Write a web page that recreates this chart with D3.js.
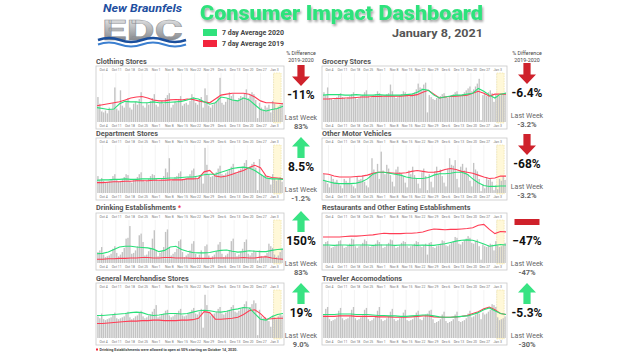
<!DOCTYPE html>
<html><head><meta charset="utf-8">
<script src="https://cdn.jsdelivr.net/npm/d3@7"></script>
<style>body{margin:0;background:#fff}svg{display:block}text{font-family:Roboto,"Noto Sans",sans-serif}</style>
</head><body>
<svg id="c" width="640" height="360"></svg>
<script>
// ---------- DATA ----------
const startDay = "Oct 1 2020";
const tickLabels = ["Oct 4","Oct 11","Oct 18","Oct 25","Nov 1","Nov 8","Nov 15","Nov 22","Nov 29","Dec 6","Dec 13","Dec 20","Dec 27","Jan 3"];
const lineStep = 3; // 7-day averages read every 3 days

const clothingBars = [52,38,22, 20,24,18,30,26,40,72, 28,24,66,34,30,44,50, 30,26,38,42,36,48,62, 34,30,40,36,44,50,58, 36,32,40,44,38,50,56, 60,30,36,42,40,48,54, 34,38,40,36,44,58,52, 40,36,46,52,30,70,56, 34,30,36,40,44,52,92, 40,36,42,48,62,54,58, 46,44,50,54,52,60,68, 50,56,62,58,46,8,40, 30,26,34,30,36,20,44, 38,28,32,36,40];
const clothing2020 = [30,28,26,27,38,43,42,42,40,40,42,40,40,41,42,43,46,50,48,42,37,40,52,50,46,44,50,46,36,26,23,26,28,33];
const clothing2019 = [34,36,38,40,42,46,50,52,53,50,46,44,44,46,47,46,48,47,44,42,40,48,56,58,60,60,60,58,52,44,40,40,39,38];

const groceryBars = [62,56,72, 50,48,46,50,52,56,60, 52,50,48,52,54,58,62, 52,48,50,54,56,62,66, 54,50,52,56,58,64,60, 56,52,54,58,60,78,64, 54,50,52,56,58,64,62, 56,52,54,60,62,68,80, 72,70,78,82,20,56,52, 48,46,50,52,54,58,60, 52,50,52,56,58,62,64, 56,54,58,62,66,70,74, 64,68,74,80,90,4,56, 58,54,62,66,60,42,58, 56,54,58,60,62];
const grocery2020 = [56,57,57,57,56,56,57,56,56,56,57,56,56,56,56,57,58,62,68,66,56,50,52,54,56,56,58,60,70,64,56,50,58,60];
const grocery2019 = [48,48,49,49,50,50,51,52,52,53,53,54,54,54,54,55,55,57,62,66,58,50,52,53,54,55,56,60,64,60,54,58,58,58];

const departmentBars = [36,28,32, 26,22,24,26,30,36,40, 28,24,26,30,34,40,38, 26,22,28,30,34,40,44, 28,24,26,30,36,40,38, 30,26,28,32,36,52,44, 74,26,30,34,36,42,46, 30,28,32,34,40,48,52, 36,32,38,40,20,96,60, 40,34,36,40,44,52,58, 40,38,42,46,50,56,62, 44,42,48,52,56,64,70, 52,56,62,66,54,6,72, 40,36,38,34,30,18,40, 30,26,30,34,24];
const department2020 = [27,28,28,29,29,30,29,29,30,30,30,31,31,32,32,33,34,34,36,39,40,40,44,48,52,54,55,53,48,40,32,30,30,29];
const department2019 = [22,22,23,24,24,25,25,26,26,26,27,27,27,28,28,28,30,30,31,45,48,36,34,36,40,44,48,54,59,54,36,33,32,30];

const motorBars = [40,26,20, 12,36,30,24,28,20,16, 10,30,26,22,32,18,14, 10,34,28,30,36,24,16, 12,40,74,50,44,62,30, 88,48,40,60,52,38,24, 14,50,56,44,42,36,22, 12,48,40,56,38,30,20, 10,44,52,36,6,40,24, 12,46,56,40,50,36,22, 14,52,74,60,58,70,30, 12,56,62,48,54,40,26, 14,64,50,46,30,4,18, 10,34,28,30,24,6,16, 8,30,26,36,28];
const motor2020 = [27,24,21,20,20,20,21,24,30,40,44,44,42,40,38,34,32,31,31,33,38,41,41,42,44,44,40,30,22,16,14,14,15,15];
const motor2019 = [41,40,36,34,34,34,35,36,38,42,44,44,43,42,42,43,46,48,46,44,44,46,50,52,50,46,44,42,38,34,31,32,36,36];

const drinkingBars = [26,30,38, 20,14,16,18,22,34,40, 24,16,20,26,36,58,60, 88,22,24,30,40,66,70, 50,18,20,28,36,58,78, 30,16,24,28,38,74,80, 36,18,22,26,34,52,56, 26,14,18,22,30,46,52, 22,14,20,30,12,40,44, 18,12,16,20,28,44,50, 22,14,18,22,30,52,58, 24,16,20,26,34,50,56, 22,18,24,30,26,6,30, 16,14,18,24,46,40,36, 20,14,18,26,34];
const drinking2020 = [22,23,26,32,38,40,40,38,37,36,33,27,30,38,40,32,28,25,24,24,25,28,30,31,28,26,27,29,28,27,27,30,32,33];
const drinking2019 = [9,9,10,10,11,11,12,12,13,13,12,12,13,13,12,12,12,11,11,11,11,12,12,12,12,12,13,12,12,14,15,12,10,9];

const restaurantBars = [44,50,52, 40,36,38,40,44,52,54, 42,36,38,42,46,58,56, 40,36,40,42,48,56,52, 40,38,40,42,46,54,50, 44,36,38,44,48,56,54, 42,36,38,42,48,52,50, 40,36,40,42,46,52,50, 40,38,42,46,20,48,50, 38,36,40,42,46,54,52, 42,40,44,48,52,62,60, 46,44,50,54,58,64,60, 48,46,52,56,40,8,44, 40,38,42,46,44,30,52, 42,38,40,44,48];
const restaurant2020 = [43,43,42,43,43,42,43,43,43,42,43,43,43,42,43,43,43,42,43,42,42,44,46,49,52,54,55,54,50,45,40,42,44,43];
const restaurant2019 = [62,62,62,62,63,64,64,65,66,67,69,71,70,70,70,71,71,72,74,78,81,80,79,80,80,81,82,84,90,92,80,70,75,74];

const merchandiseBars = [46,42,52, 40,38,40,42,44,50,54, 42,40,42,44,46,52,56, 44,40,42,46,48,54,58, 46,42,44,48,50,56,62, 70,44,46,50,52,58,60, 48,44,46,50,52,58,62, 48,46,48,52,54,60,64, 52,50,56,62,22,92,70, 54,48,50,52,56,62,66, 52,50,54,58,60,66,70, 56,54,58,62,66,72,78, 62,66,72,80,74,6,60, 46,42,44,40,36,24,48, 44,40,46,50,48];
const merchandise2020 = [48,48,49,50,51,52,54,55,54,50,48,49,51,52,52,51,52,55,58,59,58,56,55,57,60,62,65,64,52,40,38,45,50,52];
const merchandise2019 = [31,31,32,33,34,35,36,36,37,37,38,38,37,37,37,38,38,39,42,56,54,40,40,41,42,44,50,58,60,52,40,41,42,42];

const travelerBars = [50,62,66, 40,36,38,40,44,58,64, 42,38,40,42,46,60,66, 42,38,40,44,48,60,64, 40,36,38,42,46,58,66, 40,36,38,42,46,56,62, 40,36,38,42,44,54,60, 38,36,38,40,44,54,58, 40,38,44,50,52,58,60, 40,32,34,36,40,50,56, 36,32,34,36,40,50,56, 36,34,36,38,42,52,58, 44,46,50,54,52,40,54, 50,52,56,60,72,70,66, 44,38,40,42,46];
const traveler2020 = [50,50,50,51,51,51,50,50,50,49,48,48,47,47,46,46,47,48,49,49,47,45,44,44,45,46,47,50,54,60,64,58,52,50];
const traveler2019 = [46,46,46,47,47,47,46,46,46,46,45,45,45,44,44,44,45,46,47,47,45,44,44,44,45,46,48,52,56,62,66,60,52,50];

const titles = ["Clothing Stores","Grocery Stores","Department Stores","Other Motor Vehicles","Drinking Establishments","Restaurants and Other Eating Establishments","General Merchandise Stores","Traveler Accomodations"];
const pctDiff = ["-11%","-6.4%","8.5%","-68%","150%","\u221247%","19%","-5.3%"];
const lastWeek = ["83%","-3.2%","-1.2%","-3.2%","83%","-47%","9.0%","-30%"];
const direction = ["down","down","up","down","up","flat","up","up"];

// ---------- DRAW ----------
const svg = d3.select("#c");
const GREEN = "#2fe27c", RED = "#f2243d", LGREEN = "#29e07a", LRED = "#ff3d55";
const defs = svg.append("defs");
const f = defs.append("filter").attr("id","sh").attr("x","-10%").attr("y","-30%").attr("width","120%").attr("height","170%");
f.append("feDropShadow").attr("dx",1.2).attr("dy",2).attr("stdDeviation",1.3).attr("flood-color","#000").attr("flood-opacity",0.35);
const g1 = defs.append("linearGradient").attr("id","edc").attr("x1",0).attr("x2",0).attr("y1",0).attr("y2",1);
g1.append("stop").attr("offset","0%").attr("stop-color","#f4f4f4");
g1.append("stop").attr("offset","55%").attr("stop-color","#a9abae");
g1.append("stop").attr("offset","100%").attr("stop-color","#6d7075");

// Logo
svg.append("text").attr("x",103).attr("y",11.8).attr("font-family","Liberation Serif, DejaVu Serif, serif")
  .attr("font-style","italic").attr("font-weight","bold").attr("font-size",10.5).attr("fill","#1f4fa0")
  .attr("textLength",79).attr("lengthAdjust","spacingAndGlyphs").text("New Braunfels");
svg.append("text").attr("x",102).attr("y",39.5).attr("font-family","DejaVu Sans, sans-serif").attr("font-weight","bold")
  .attr("font-size",27).attr("fill","url(#edc)").attr("stroke","#8c8f94").attr("stroke-width",0.4)
  .attr("textLength",81).attr("lengthAdjust","spacingAndGlyphs").text("EDC");
const wave = (y) => `M98,${y} q11,-4 22,0 t22,0 t22,0 t22,0`;
svg.append("path").attr("d",wave(40)).attr("fill","none").attr("stroke","#1b4f9c").attr("stroke-width",2.4);
svg.append("path").attr("d",wave(44.5)).attr("fill","none").attr("stroke","#3b7fd0").attr("stroke-width",2);

// Title
svg.append("text").attr("x",200).attr("y",20).attr("font-size",19.5).attr("font-weight",900)
  .attr("fill",GREEN).attr("filter","url(#sh)").attr("textLength",283).attr("lengthAdjust","spacingAndGlyphs")
  .text("Consumer Impact Dashboard");
svg.append("text").attr("x",392).attr("y",36.5).attr("font-size",11.5).attr("font-weight","bold").attr("fill","#555")
  .attr("textLength",91).attr("lengthAdjust","spacingAndGlyphs").text("January 8, 2021");
// Legend
[[GREEN,"7 day Average 2020",29],[RED,"7 day Average 2019",40]].forEach(([c,t,y])=>{
  svg.append("rect").attr("x",203).attr("y",y).attr("width",14).attr("height",7).attr("fill",c);
  svg.append("text").attr("x",222).attr("y",y+6).attr("font-size",6.3).attr("font-weight","bold").attr("fill","#444")
    .attr("textLength",62).attr("lengthAdjust","spacingAndGlyphs").text(t);
});
// Column headers
[301,527].forEach(cx=>{
  svg.append("text").attr("x",cx).attr("y",55).attr("text-anchor","middle").attr("font-size",5.3).attr("fill","#444").text("% Difference");
  svg.append("text").attr("x",cx).attr("y",61.5).attr("text-anchor","middle").attr("font-size",5.3).attr("fill","#444").text("2019-2020");
});

const parse = d3.timeParse("%b %d %Y");
const t0 = parse(startDay);
const tickDays = tickLabels.map(l => d3.timeDay.count(t0, parse(l + (l.startsWith("Jan") ? " 2021" : " 2020"))));

const cols = [{x0:96,x1:284,cx:301},{x0:322,x1:507,cx:527}];
const rows = [{y0:66,y1:129,ty:64,vy:[95,93]},{y0:138,y1:200,ty:136,vy:[167,164]},{y0:213,y1:270,ty:210,vy:[241,241]},{y0:283,y1:345,ty:281,vy:[313,313]}];
const barsets = [clothingBars,groceryBars,departmentBars,motorBars,drinkingBars,restaurantBars,merchandiseBars,travelerBars];
const s2020 = [clothing2020,grocery2020,department2020,motor2020,drinking2020,restaurant2020,merchandise2020,traveler2020];
const s2019 = [clothing2019,grocery2019,department2019,motor2019,drinking2019,restaurant2019,merchandise2019,traveler2019];

titles.forEach((title,i)=>{
  const c = cols[i%2], r = rows[Math.floor(i/2)];
  const bars = barsets[i], n = bars.length;
  const g = svg.append("g");
  const tt = g.append("text").attr("x",c.x0).attr("y",r.ty).attr("font-size",7.3).attr("font-weight","bold").attr("fill","#555").text(title);
  if (i===4) g.append("text").attr("x",c.x0+tt.node().getComputedTextLength()+2).attr("y",r.ty-0.5).attr("font-size",6.5).attr("font-weight","bold").attr("fill",RED).text("*");
  g.append("rect").attr("x",c.x0).attr("y",r.y0).attr("width",c.x1-c.x0).attr("height",r.y1-r.y0)
    .attr("fill","#fff").attr("stroke","#c9c9c9").attr("stroke-width",0.8);
  const x = d3.scaleLinear().domain([0,n]).range([c.x0+1,c.x1-1]);
  const y = d3.scaleLinear().domain([0,100]).range([r.y1-7,r.y0+8]);
  // grid
  g.selectAll(".gl").data(tickDays).enter().append("line")
    .attr("x1",d=>x(d)).attr("x2",d=>x(d)).attr("y1",r.y0+7).attr("y2",r.y1-6).attr("stroke","#e6e6e6").attr("stroke-width",0.5);
  // highlight last days
  g.append("rect").attr("x",x(94)).attr("y",r.y0+7).attr("width",x(98)-x(94)).attr("height",r.y1-r.y0-13)
    .attr("fill","#fff8d8").attr("stroke","#e9d98a").attr("stroke-width",0.5).attr("stroke-dasharray","1.5,1");
  // bars
  g.selectAll(".b").data(bars).enter().append("rect")
    .attr("x",(d,k)=>x(k)+0.25).attr("width",x(1)-x(0)-0.5)
    .attr("y",d=>y(d)).attr("height",d=>y(0)-y(d)).attr("fill","#c3c3c3");
  // lines
  const ln = d3.line().x((d,k)=>x(Math.min(k*lineStep,n))).y(d=>y(d));
  g.append("path").attr("d",ln(s2019[i])).attr("fill","none").attr("stroke",LRED).attr("stroke-width",1.1);
  g.append("path").attr("d",ln(s2020[i])).attr("fill","none").attr("stroke",LGREEN).attr("stroke-width",1.1);
  // axis labels top & bottom
  [r.y0+5, r.y1-2].forEach(yy=>{
    g.selectAll(null).data(tickLabels).enter().append("text").attr("x",(d,k)=>x(tickDays[k]+0.5)).attr("y",yy)
      .attr("text-anchor","middle").attr("font-size",3.4).attr("fill","#777").text(d=>d);
  });
  // indicator
  const cx = c.cx, vy = r.vy[i%2];
  const dir = direction[i];
  if (dir==="flat") {
    g.append("rect").attr("x",cx-12.5).attr("y",vy-22).attr("width",25).attr("height",6).attr("fill","#cf212b");
  } else {
    const top = vy-30, bot = vy-9, hw=9, sw=3.6, hl=9.5;
    const pts = dir==="up"
      ? [[cx,top],[cx+hw,top+hl],[cx+sw,top+hl],[cx+sw,bot],[cx-sw,bot],[cx-sw,top+hl],[cx-hw,top+hl]]
      : [[cx,bot],[cx+hw,bot-hl],[cx+sw,bot-hl],[cx+sw,top],[cx-sw,top],[cx-sw,bot-hl],[cx-hw,bot-hl]];
    g.append("path").attr("d","M"+pts.join("L")+"Z").attr("fill",dir==="up"?"#38e383":"#cf222c");
  }
  g.append("text").attr("x",cx).attr("y",vy+4).attr("text-anchor","middle").attr("font-size",12).attr("font-weight","bold").attr("fill","#111").text(pctDiff[i]);
  g.append("text").attr("x",cx).attr("y",vy+24.5).attr("text-anchor","middle").attr("font-size",7).attr("fill","#666").text("Last Week");
  g.append("text").attr("x",cx).attr("y",vy+33.5).attr("text-anchor","middle").attr("font-size",7.5).attr("font-weight","bold").attr("fill","#666").text(lastWeek[i]);
});

// Footnote
svg.append("rect").attr("x",96).attr("y",348.5).attr("width",2).attr("height",2).attr("fill",RED);
svg.append("text").attr("x",99.5).attr("y",351).attr("font-size",3.8).attr("font-weight","bold").attr("fill","#444")
  .attr("textLength",138).attr("lengthAdjust","spacingAndGlyphs")
  .text("Drinking Establishments were allowed to open at 50% starting on October 14, 2020.");
</script>
</body></html>
